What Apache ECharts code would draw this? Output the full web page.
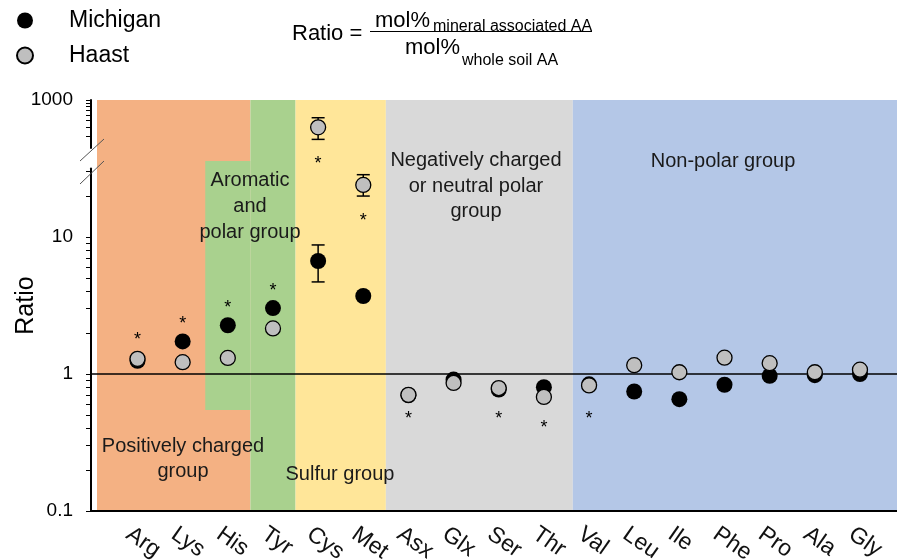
<!DOCTYPE html>
<html>
<head>
<meta charset="utf-8">
<script src="https://cdn.jsdelivr.net/npm/echarts@6/dist/echarts.min.js"></script>
<style>html,body{margin:0;padding:0;background:#fff}#chart{width:897px;height:560px}</style>
</head>
<body>
<div id="chart"></div>
<script>
// ---------------- data ----------------
const categories = ['Arg','Lys','His','Tyr','Cys','Met','Asx','Glx','Ser','Thr','Val','Leu','Ile','Phe','Pro','Ala','Gly'];
const michigan = [1.25, 1.73, 2.27, 3.03, 6.68, 3.71, 0.70, 0.91, 0.77, 0.80, 0.84, 0.745, 0.655, 0.835, 0.97, 0.98, 1.00];
const haast    = [1.29, 1.22, 1.31, 2.15, 400, 24.0, 0.705, 0.86, 0.79, 0.68, 0.825, 1.16, 1.03, 1.315, 1.20, 1.03, 1.075];

const michiganErrCats = ['Cys'];
const michiganErrLow  = [4.70];
const michiganErrHigh = [8.75];
const haastErrCats = ['Cys', 'Met'];
const haastErrLow  = [267, 19.9];
const haastErrHigh = [552, 28.5];

const starCats = ['Arg','Lys','His','Tyr','Cys','Met','Asx','Ser','Thr','Val'];
const starY    = [1.89, 2.48, 3.24, 4.30, 36.6, 14.0, 0.503, 0.503, 0.431, 0.503];

// axis break: values above this go to the upper panel
const breakValue = 100;
const lowerTicks  = [0.1,0.2,0.3,0.4,0.5,0.6,0.7,0.8,0.9,1,2,3,4,5,6,7,8,9,10,20,30];
const lowerLabels = [0.1, 1, 10];
const upperTicks  = [300,400,500,600,700,800,900,1000];
const upperLabels = [1000];

// group regions (in category-index units)
const groupOrange = [-0.897, 2.5];
const groupGreen  = [2.5, 3.5];
const groupGreenStep = [1.5, 2.5, 0.545, 35.9];
const groupYellow = [3.5, 5.5];
const groupGray   = [5.5, 9.64];
const groupBlue   = [9.64, 16.82];

// ---------------- chart ----------------
const FONT = "'Liberation Sans', Arial, Helvetica, sans-serif";
const X_MIN = -1.03, X_MAX = 16.82;
const LABEL_SHIFT = -0.2; // rotated category labels sit slightly left of their tick
const lg = v => Math.round(Math.log10(v) * 1e9) / 1e9;
const ci = name => categories.indexOf(name);

const chart = echarts.init(document.getElementById('chart'), null, {renderer: 'canvas'});

function errRender(params, api) {
  const x = api.value(0), lo = api.value(1), hi = api.value(2);
  const a = api.coord([x, lo]), b = api.coord([x, hi]);
  const hw = 6.5, st = {stroke: '#000', lineWidth: 1.5};
  return {type: 'group', children: [
    {type: 'line', shape: {x1: a[0], y1: a[1], x2: b[0], y2: b[1]}, style: st},
    {type: 'line', shape: {x1: a[0]-hw, y1: a[1], x2: a[0]+hw, y2: a[1]}, style: st},
    {type: 'line', shape: {x1: b[0]-hw, y1: b[1], x2: b[0]+hw, y2: b[1]}, style: st}
  ]};
}
function starRender(params, api) {
  const p = api.coord([api.value(0), api.value(1)]);
  return {type: 'text', x: p[0], y: p[1] + 4, style: {text: '*', fontSize: 18, fontFamily: FONT, fill: '#000', align: 'center', verticalAlign: 'middle'}};
}

const hiddenX = gi => ({type: 'value', gridIndex: gi, min: X_MIN, max: X_MAX, show: false});
const tickFmt = v => String(+Math.pow(10, v).toPrecision(3));

const mErr = michiganErrCats.map((c, i) => [ci(c), michiganErrLow[i], michiganErrHigh[i]]);
const hErr = haastErrCats.map((c, i) => [ci(c), haastErrLow[i], haastErrHigh[i]]);

const option = {
  animation: false,
  backgroundColor: '#fff',
  textStyle: {fontFamily: FONT},
  legend: {
    orient: 'vertical', left: 16, top: 9, padding: 0, itemGap: 12,
    itemWidth: 16, itemHeight: 16, icon: 'circle',
    data: ['Michigan', 'Haast'],
    textStyle: {fontSize: 23, color: '#000', fontFamily: FONT, padding: [0, 0, 0, 31]}
  },
  grid: [
    {left: 91, right: 0, top: 100, bottom: 49, outerBoundsMode: 'none', containLabel: false},
    {left: 91, right: 0, top: 100, height: 48, outerBoundsMode: 'none', containLabel: false},
    {left: 91, right: 0, top: 168.5, bottom: 49, outerBoundsMode: 'none', containLabel: false}
  ],
  xAxis: [
    {type: 'value', gridIndex: 0, min: X_MIN, max: X_MAX,
     splitLine: {show: false},
     axisLine: {show: true, onZero: false, lineStyle: {color: '#000', width: 2}},
     axisTick: {show: false},
     axisLabel: {customValues: categories.map((c, i) => i + LABEL_SHIFT), formatter: v => categories[Math.round(v)],
       rotate: -35, margin: 21, fontSize: 23, color: '#111', fontFamily: FONT, hideOverlap: false}},
    hiddenX(1),
    hiddenX(2)
  ],
  yAxis: [
    {type: 'log', gridIndex: 0, min: 0.1, max: 100, logBase: 10,
     name: 'Ratio', nameLocation: 'middle', nameGap: 52, nameRotate: 90,
     nameTextStyle: {fontSize: 25, color: '#000', fontFamily: FONT},
     axisLine: {show: false, onZero: false}, axisTick: {show: false}, axisLabel: {show: false},
     splitLine: {show: false}, minorTick: {show: false}},
    {type: 'log', gridIndex: 1, min: 200, max: 1000, logBase: 10, show: false},
    {type: 'value', gridIndex: 1, position: 'left', min: lg(200), max: 3,
     splitLine: {show: false},
     axisLine: {show: true, onZero: false, lineStyle: {color: '#000', width: 2}},
     axisTick: {show: true, inside: false, length: 5, lineStyle: {color: '#000', width: 1}, customValues: upperTicks.map(lg)},
     axisLabel: {customValues: upperLabels.map(lg), formatter: tickFmt, margin: 18, fontSize: 19, color: '#000', fontFamily: FONT}},
    {type: 'value', gridIndex: 2, position: 'left', min: -1, max: 1.5,
     splitLine: {show: false},
     axisLine: {show: true, onZero: false, lineStyle: {color: '#000', width: 2}},
     axisTick: {show: true, inside: false, length: 5, lineStyle: {color: '#000', width: 1}, customValues: lowerTicks.map(lg)},
     axisLabel: {customValues: lowerLabels.map(lg), formatter: tickFmt, margin: 18, fontSize: 19, color: '#000', fontFamily: FONT}}
  ],
  series: [
    {
      type: 'scatter', name: 'groups', xAxisIndex: 0, yAxisIndex: 0, data: [], silent: true, z: 0,
      markArea: {silent: true, z: 0, label: {show: false}, data: [
        [{xAxis: groupOrange[0], itemStyle: {color: '#F4B183'}}, {xAxis: groupOrange[1]}],
        [{xAxis: groupGreen[0], itemStyle: {color: '#A9D18E'}}, {xAxis: groupGreen[1]}],
        [{xAxis: groupGreenStep[0], yAxis: groupGreenStep[2], itemStyle: {color: '#A9D18E'}}, {xAxis: groupGreenStep[1], yAxis: groupGreenStep[3]}],
        [{xAxis: groupYellow[0], itemStyle: {color: '#FFE699'}}, {xAxis: groupYellow[1]}],
        [{xAxis: groupGray[0], itemStyle: {color: '#D9D9D9'}}, {xAxis: groupGray[1]}],
        [{xAxis: groupBlue[0], itemStyle: {color: '#B4C7E7'}}, {xAxis: groupBlue[1]}]
      ]},
      markLine: {silent: true, symbol: 'none', z: 1, label: {show: false},
        lineStyle: {color: '#000', width: 1.5, type: 'solid'}, data: [{yAxis: 1}]}
    },
    {type: 'custom', name: 'Michigan err', xAxisIndex: 0, yAxisIndex: 0, z: 2,
     renderItem: errRender, encode: {x: 0, y: [1, 2]}, data: mErr},
    {type: 'custom', name: 'Haast err', xAxisIndex: 0, yAxisIndex: 0, z: 2,
     renderItem: errRender, encode: {x: 0, y: [1, 2]}, data: hErr.filter(d => d[2] <= breakValue)},
    {type: 'custom', name: 'Haast err top', xAxisIndex: 1, yAxisIndex: 1, z: 2,
     renderItem: errRender, encode: {x: 0, y: [1, 2]}, data: hErr.filter(d => d[2] > breakValue)},
    {type: 'scatter', name: 'Michigan', xAxisIndex: 0, yAxisIndex: 0, z: 3,
     symbol: 'circle', symbolSize: 16, itemStyle: {color: '#000', opacity: 1},
     data: michigan.map((v, i) => [i, v])},
    {type: 'scatter', name: 'Haast', xAxisIndex: 0, yAxisIndex: 0, z: 4,
     symbol: 'circle', symbolSize: 15, itemStyle: {color: '#BFBFBF', borderColor: '#000', borderWidth: 1.3, opacity: 1},
     data: haast.map((v, i) => [i, v]).filter(d => d[1] <= breakValue)},
    {type: 'scatter', name: 'Haast', xAxisIndex: 1, yAxisIndex: 1, z: 4,
     symbol: 'circle', symbolSize: 15, itemStyle: {color: '#BFBFBF', borderColor: '#000', borderWidth: 1.3, opacity: 1},
     data: haast.map((v, i) => [i, v]).filter(d => d[1] > breakValue)},
    {type: 'custom', name: 'stars', xAxisIndex: 0, yAxisIndex: 0, z: 5,
     renderItem: starRender, encode: {x: 0, y: 1},
     data: starCats.map((c, i) => [ci(c), starY[i]])}
  ],
  graphic: [
    // break marks on the y axis
    {type: 'line', shape: {x1: 80, y1: 161, x2: 104, y2: 139}, style: {stroke: '#555', lineWidth: 1}, z: 100},
    {type: 'line', shape: {x1: 80, y1: 184, x2: 104, y2: 161}, style: {stroke: '#555', lineWidth: 1}, z: 100},
    // group labels
    {type: 'text', x: 250, y: 206, z: 50, style: {text: 'Aromatic\nand\npolar group', fontSize: 20, lineHeight: 26, fontFamily: FONT, fill: '#1a1a1a', align: 'center', verticalAlign: 'middle'}},
    {type: 'text', x: 476, y: 186, z: 50, style: {text: 'Negatively charged\nor neutral polar\ngroup', fontSize: 20, lineHeight: 25.5, fontFamily: FONT, fill: '#1a1a1a', align: 'center', verticalAlign: 'middle'}},
    {type: 'text', x: 723, y: 161, z: 50, style: {text: 'Non-polar group', fontSize: 20, fontFamily: FONT, fill: '#1a1a1a', align: 'center', verticalAlign: 'middle'}},
    {type: 'text', x: 183, y: 459, z: 50, style: {text: 'Positively charged\ngroup', fontSize: 20, lineHeight: 25, fontFamily: FONT, fill: '#1a1a1a', align: 'center', verticalAlign: 'middle'}},
    {type: 'text', x: 340, y: 474, z: 50, style: {text: 'Sulfur group', fontSize: 20, fontFamily: FONT, fill: '#1a1a1a', align: 'center', verticalAlign: 'middle'}},
    // formula
    {type: 'text', x: 292, y: 34, style: {text: 'Ratio =', fontSize: 22, fontFamily: FONT, fill: '#000', align: 'left', verticalAlign: 'middle'}},
    {type: 'line', shape: {x1: 370, y1: 31.5, x2: 592, y2: 31.5}, style: {stroke: '#000', lineWidth: 1.2}},
    {type: 'text', x: 375, y: 20.5, style: {text: 'mol%', fontSize: 22, fontFamily: FONT, fill: '#000', align: 'left', verticalAlign: 'middle'}},
    {type: 'text', x: 433, y: 26.5, style: {text: 'mineral associated AA', fontSize: 16, fontFamily: FONT, fill: '#000', align: 'left', verticalAlign: 'middle'}},
    {type: 'text', x: 405, y: 47.5, style: {text: 'mol%', fontSize: 22, fontFamily: FONT, fill: '#000', align: 'left', verticalAlign: 'middle'}},
    {type: 'text', x: 462, y: 61, style: {text: 'whole soil AA', fontSize: 16, fontFamily: FONT, fill: '#000', align: 'left', verticalAlign: 'middle'}}
  ]
};
chart.setOption(option);
</script>
</body>
</html>
